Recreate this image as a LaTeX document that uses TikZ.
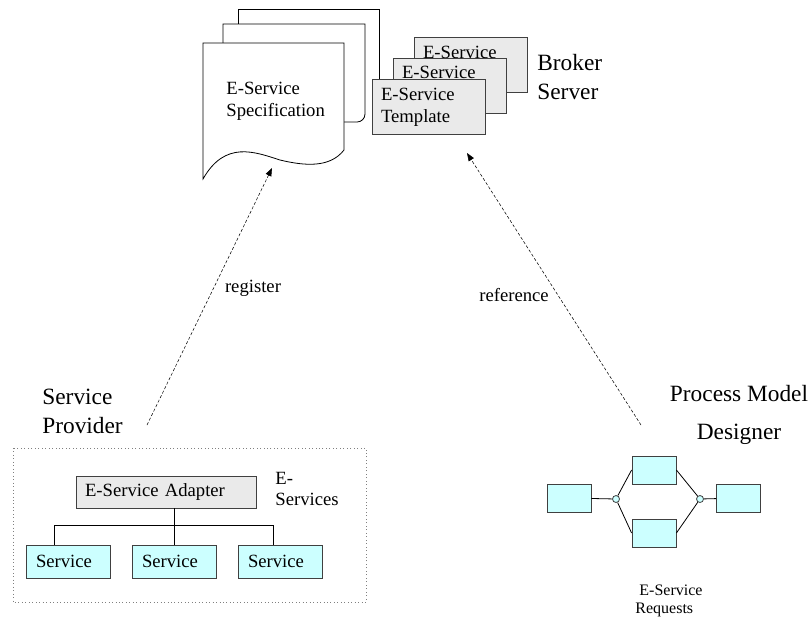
\documentclass[tikz,border=0pt]{standalone}
\usepackage{fontspec}
\setmainfont{Liberation Serif}
\usetikzlibrary{arrows.meta}
\definecolor{tmplgray}{RGB}{234,234,234}
\definecolor{svccyan}{RGB}{204,255,255}
\begin{document}
\begin{tikzpicture}[x=0.75pt,y=-0.75pt,semithick,
  lbl/.style={font=\fontsize{14}{16.5}\selectfont, inner sep=0pt},
  biglbl/.style={font=\fontsize{17.5}{21.75}\selectfont, inner sep=0pt},
  tmpl/.style={draw=black!75, fill=tmplgray, font=\fontsize{14}{16.5}\selectfont, align=left, text width=71.25pt, inner xsep=6.75pt, minimum height=41.25pt},
  svc/.style={draw=black!75, fill=svccyan, font=\fontsize{14}{16.5}\selectfont, align=left, text width=48pt, inner xsep=7.5pt, minimum height=24.75pt},
  act/.style={draw=black!75, fill=svccyan, minimum width=33pt, minimum height=21pt, inner sep=0pt},
  gate/.style={draw=black!75, fill=svccyan, circle, minimum size=5.25pt, inner sep=0pt},
  link/.style={thin, dash pattern=on 2.25pt off 1.5pt, -{Triangle[length=6pt,width=4.5pt]}}]
\useasboundingbox (0,0) rectangle (809,619);

% specification pages
\draw (238,40) |- (379,9) -- (379,85);
\draw[fill=white] (223,150) |- (365,24) -- (365,114) to[out=-90,in=0] (357,122) -- (300,122);
\draw[fill=white] (203,43) -- (344,43) -- (344,150) .. controls (330,168) and (305,166) .. (280,160) .. controls (255,152) and (225,140) .. (203,179) -- cycle;
\node[lbl, anchor=west, align=left] (spec) at (226,101) {E-Service\\Specification};

% templates
\node[tmpl] (tmpl3) at (470.5,65) {E-Service\\Template};
\node[tmpl] (tmpl2) at (449.5,85.5) {E-Service\\Template};
\node[tmpl] (tmpl1) at (428.5,107) {E-Service\\Template};
\node[biglbl, anchor=west, align=left] (broker) at (537,77.5) {Broker\\Server};

% provider
\draw[dotted, gray] (13,448) rectangle (366,602);
\node[biglbl, anchor=west, align=left] (provider) at (42,411.5) {Service\\Provider};
\node[tmpl, text width=121.5pt, minimum height=24pt] (adapter) at (166,492) {E-Service Adapter};
\node[lbl, anchor=west, align=left, font=\fontsize{14}{15.75}\selectfont] (eserv) at (275,488.5) {E-\\Services};
\node[svc] (svc1) at (68,561.5) {Service};
\node[svc] (svc2) at (174,561.5) {Service};
\node[svc] (svc3) at (280,561.5) {Service};
\coordinate (bar) at (174,525);
\draw (adapter.south -| svc2.north) -- (svc2.north);
\draw ([xshift=-10.5pt]svc1.north) |- (bar) -| ([xshift=-5.25pt]svc3.north);

% designer
\node[biglbl, align=center, font=\fontsize{17.5}{28}\selectfont] (designer) at (739,415) {Process Model\\Designer};
\node[act] (act1) at (569,498) {};
\node[act] (act2) at (654,470) {};
\node[act] (act3) at (654,533) {};
\node[act] (act4) at (738.5,498) {};
\node[gate] (split) at (616,499) {};
\node[gate] (merge) at (700,499) {};
\draw (act1) -- (split);
\draw (split) -- (act2.west);
\draw (split) -- (act3.west);
\draw (act2.east) -- (merge);
\draw (act3.east) -- (merge);
\draw (merge) -- (act4);
\node[lbl, anchor=west, align=left, font=\fontsize{12}{13.5}\selectfont] (requests) at (635,601) {\hspace*{3pt}E-Service\\Requests};

% links
\coordinate (regtail) at (147,425);
\coordinate (reghead) at (272,168);
\coordinate (reftail) at (641,425);
\coordinate (refhead) at (467,153);
\draw[link] (regtail) -- (reghead);
\draw[link] (reftail) -- (refhead);
\node[lbl] (register) at (253,288) {register};
\node[lbl] (reference) at (514,295) {reference};

\end{tikzpicture}
\end{document}
